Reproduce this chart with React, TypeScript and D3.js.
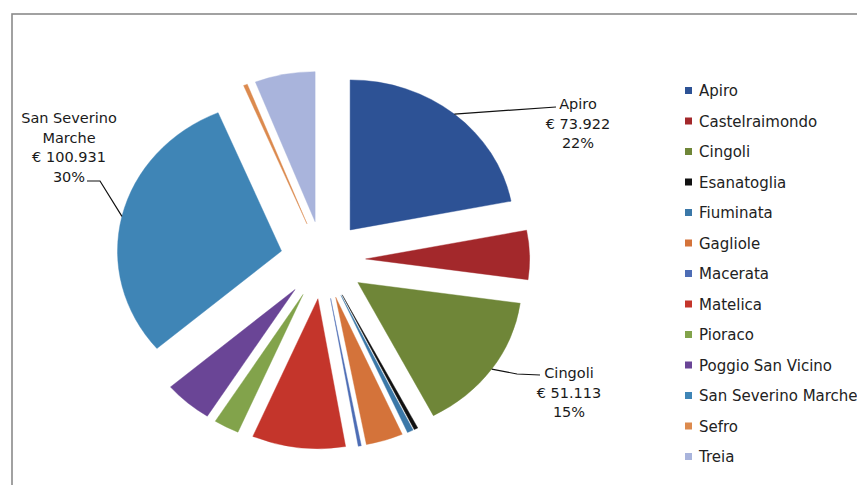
import React from "react";
import * as d3 from "d3";

const categories = [
  "Apiro",
  "Castelraimondo",
  "Cingoli",
  "Esanatoglia",
  "Fiuminata",
  "Gagliole",
  "Macerata",
  "Matelica",
  "Pioraco",
  "Poggio San Vicino",
  "San Severino Marche",
  "Sefro",
  "Treia",
];

const values = [73922, 17800, 51113, 1300, 2000, 12300, 1000, 31000, 8400, 16000, 100931, 1300, 20000];

const colors = [
  "#2d5295",
  "#a3282b",
  "#6f8638",
  "#111111",
  "#3b78a8",
  "#d4733a",
  "#4d6db5",
  "#c4352b",
  "#82a34b",
  "#6a4596",
  "#3f85b6",
  "#dc8a4e",
  "#a9b4dc",
];

// indices of slices that carry a data label
const labelled = [0, 2, 10];
const labelNames: Record<number, string[]> = {
  0: ["Apiro"],
  2: ["Cingoli"],
  10: ["San Severino", "Marche"],
};

export default function App() {
  const W = 857;
  const H = 485;
  const cx = 323;
  const cy = 260;
  const R = 150;
  const sx = 164 / 150;
  const E = 39;

  const total = d3.sum(values);
  const pie = d3.pie<number>().sort(null).value((d) => d).startAngle(0).endAngle(2 * Math.PI);
  const arcs = pie(values);
  const arcGen = d3.arc<d3.PieArcDatum<number>>().innerRadius(0).outerRadius(R);

  const euro = (v: number) => "€ " + d3.format(",")(v).replace(/,/g, ".");
  const pct = (v: number) => Math.round((v / total) * 100) + "%";

  const offset = (a: d3.PieArcDatum<number>) => {
    const m = (a.startAngle + a.endAngle) / 2;
    return [Math.sin(m) * E, -Math.cos(m) * E];
  };
  const edgePoint = (a: d3.PieArcDatum<number>) => {
    const m = (a.startAngle + a.endAngle) / 2;
    const [ox, oy] = offset(a);
    return [cx + sx * (ox + R * Math.sin(m)), cy + (oy - R * Math.cos(m))];
  };

  // label layout (text centre x, first baseline y, leader path)
  const layout: Record<number, { x: number; y: number; leader: (p: number[]) => string }> = {
    0: { x: 578, y: 109, leader: (p) => `M${p[0]},${p[1]} L556,107` },
    2: { x: 569, y: 378, leader: (p) => `M${p[0]},${p[1]} L517,374 L540,375` },
    10: { x: 69, y: 123, leader: (p) => `M${p[0]},${p[1]} L100,181 L87,181` },
  };

  const lh = 19.6;
  const legendTop = 91;
  const legendStep = 30.5;

  return (
    <svg
      width={W}
      height={H}
      style={{ position: "absolute", left: 0, top: 0, background: "#fff" }}
      fontFamily="'DejaVu Sans', sans-serif"
    >
      <rect x={0} y={0} width={W} height={H} fill="#fff" />
      <rect x={12} y={14} width={860} height={480} fill="none" stroke="#8a8a8a" strokeWidth={1.6} />
      <g transform={`translate(${cx},${cy}) scale(${sx},1)`}>
        {arcs.map((a, i) => {
          const [ox, oy] = offset(a);
          return (
            <path
              key={i}
              d={arcGen(a) || ""}
              transform={`translate(${ox},${oy})`}
              fill={colors[i]}
              stroke={colors[i]}
              strokeWidth={0.4}
            />
          );
        })}
      </g>
      {labelled.map((i) => {
        const a = arcs[i];
        const p = edgePoint(a);
        const L = layout[i];
        const lines = [...labelNames[i], euro(values[i]), pct(values[i])];
        return (
          <g key={i}>
            <path d={L.leader(p)} fill="none" stroke="#111" strokeWidth={1.2} />
            {lines.map((t, k) => (
              <text
                key={k}
                x={L.x}
                y={L.y + k * lh}
                textAnchor="middle"
                fontSize={14.5}
                fill="#1a1a1a"
              >
                {t}
              </text>
            ))}
          </g>
        );
      })}
      {categories.map((t, i) => {
        const y = legendTop + i * legendStep;
        return (
          <g key={t}>
            <rect x={685} y={y - 4} width={7} height={7} fill={colors[i]} />
            <text x={699} y={y + 5} fontSize={15} fill="#222">
              {t}
            </text>
          </g>
        );
      })}
    </svg>
  );
}
